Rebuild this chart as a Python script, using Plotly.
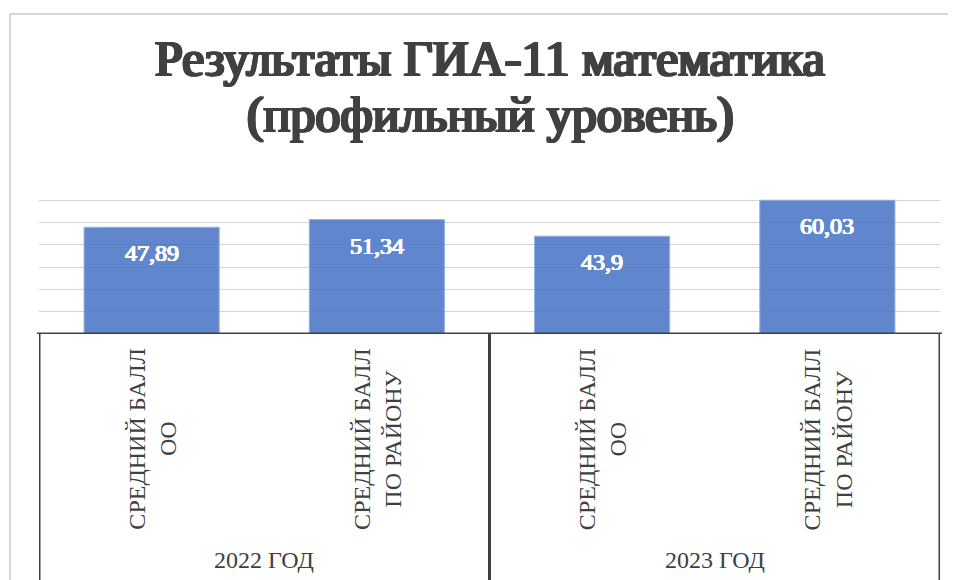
import plotly.graph_objects as go

# ---- data ----
title_lines = ["Результаты ГИА-11 математика", "(профильный уровень)"]
years = ["2022 ГОД", "2023 ГОД"]
categories = ["СРЕДНИЙ БАЛЛ<br>ОО", "СРЕДНИЙ БАЛЛ<br>ПО РАЙОНУ"]
values = [47.89, 51.34, 43.9, 60.03]
y_max = 70
y_step = 10

# ---- layout geometry (page pixels; the page adds an 8px body margin) ----
OFF = 8
W, H = 956 - OFF, 580 - OFF
PL, PR, PT, PB = 39, 940, 178, 334  # plot area in page pixels
ML, MR, MT, MB = PL - OFF, 956 - PR, PT - OFF, 580 - PB
PW = W - ML - MR
PH = H - MT - MB


def py(p):
    return (PB - p) / PH


def px(p):
    return (p - PL) / PW


def fake_bold(color, d):
    return ", ".join(f"{a}px {b}px 0 {color}" for a, b in
                     [(d, 0), (-d, 0), (0, d / 2), (d, d / 2), (-d, d / 2)])


SERIF = "Liberation Serif"
DARK = "#404040"

n_cat = len(categories)
xs = list(range(len(years) * n_cat))
labels = [f"{v}".replace(".", ",") for v in values]

fig = go.Figure()
fig.add_trace(go.Bar(
    x=xs, y=values, width=0.6,
    marker=dict(color="rgba(68,114,196,0.85)",
                line=dict(color="rgba(150,176,224,1)", width=1)),
    hoverinfo="skip",
))

annotations = []
for x, v, t in zip(xs, values, labels):
    annotations.append(dict(
        x=x, y=v, xref="x", yref="y", text=t, showarrow=False,
        yanchor="middle", yshift=-26,
        font=dict(family=SERIF, size=24, color="white",
                  shadow=fake_bold("white", 0.6))))

for gi, yr in enumerate(years):
    for ci, cat in enumerate(categories):
        annotations.append(dict(
            x=gi * n_cat + ci, y=py(439), xref="x", yref="paper",
            text=cat, textangle=-90, showarrow=False, align="center",
            xanchor="center", yanchor="middle",
            font=dict(family=SERIF, size=24, color=DARK)))
    annotations.append(dict(
        x=gi * n_cat + (n_cat - 1) / 2, y=py(560), xref="x", yref="paper",
        text=yr, showarrow=False, xanchor="center", yanchor="middle",
        font=dict(family=SERIF, size=24, color=DARK)))

for line, yc in zip(title_lines, [58, 114]):
    annotations.append(dict(
        x=px(490), y=py(yc), xref="paper", yref="paper",
        text=line, showarrow=False, xanchor="center", yanchor="middle",
        font=dict(family=SERIF, size=50, color=DARK,
                  shadow=fake_bold(DARK, 1.4))))

shapes = []
shapes.append(dict(type="line", xref="paper", yref="paper",
                   x0=px(10), x1=px(10), y0=py(14), y1=py(600),
                   line=dict(color="#c8c8c8", width=1.5)))
shapes.append(dict(type="line", xref="paper", yref="paper",
                   x0=px(10), x1=px(980), y0=py(14), y1=py(14),
                   line=dict(color="#c8c8c8", width=1.5)))
shapes.append(dict(type="line", xref="paper", yref="y",
                   x0=px(PL - 2), x1=px(PR + 2), y0=0, y1=0,
                   line=dict(color=DARK, width=3)))
for b in [-0.5] + [gi * n_cat + n_cat - 0.5 for gi in range(len(years))]:
    shapes.append(dict(type="line", xref="x", yref="paper",
                       x0=b, x1=b, y0=0, y1=py(600),
                       line=dict(color=DARK, width=3)))

fig.update_layout(
    width=W, height=H,
    margin=dict(l=ML, r=MR, t=MT, b=MB, pad=0, autoexpand=False),
    paper_bgcolor="white", plot_bgcolor="white",
    showlegend=False,
    xaxis=dict(range=[-0.5, len(xs) - 0.5], showticklabels=False,
               showgrid=False, zeroline=False, showline=False, ticks=""),
    yaxis=dict(range=[0, y_max], dtick=y_step, showticklabels=False,
               showgrid=True, gridcolor="#d4d4d4", gridwidth=1,
               zeroline=False, showline=False, ticks=""),
    annotations=annotations,
    shapes=shapes,
)

fig.write_html("out.html")
